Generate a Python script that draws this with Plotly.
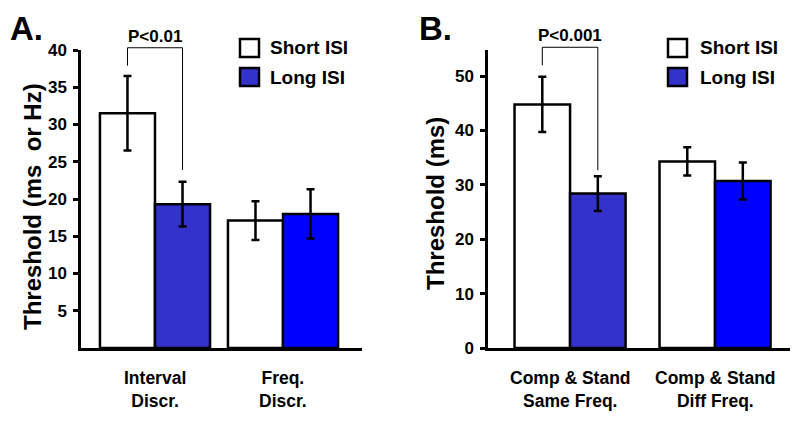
import plotly.graph_objects as go

W, H = 800, 424

# panel A data
cats_a = ["Interval<br>Discr.", "Freq.<br>Discr."]
short_a = [31.5, 17.1]
short_a_err = [5.0, 2.6]
long_a = [19.3, 18.0]
long_a_err = [3.0, 3.3]
long_a_colors = ["#3333cc", "#0000ff"]
yticks_a = [5, 10, 15, 20, 25, 30, 35, 40]

# panel B data
cats_b = ["Comp & Stand<br>Same Freq.", "Comp & Stand<br>Diff Freq."]
short_b = [44.8, 34.3]
short_b_err = [5.1, 2.6]
long_b = [28.4, 30.7]
long_b_err = [3.2, 3.4]
long_b_colors = ["#3333cc", "#0000ff"]
yticks_b = [0, 10, 20, 30, 40, 50]

series_names = ["Short ISI", "Long ISI"]
legend_colors = ["white", "#3333cc"]

FONT = "Liberation Sans, Arial, sans-serif"

# pixel layout helpers
def px_x(p):
    return p / W

def px_y(p):
    return 1 - p / H

panels = [
    dict(xa="x", ya="y", cats=cats_a, short=short_a, se=short_a_err, long=long_a, le=long_a_err,
         lc=long_a_colors, ticks=yticks_a, xdom=(81, 362), ydom=(50, 348), yrange=(0, 40),
         bw=0.43, xr=(-0.578, 1.617), title="Threshold (ms\u00a0\u00a0or Hz)", tx=32, ty=207,
         letter="A.", lx=8, p="P<0.01", br=(40.3, 37.9, 23.9), leg=(240, 268)),
    dict(xa="x2", ya="y2", cats=cats_b, short=short_b, se=short_b_err, long=long_b, le=long_b_err,
         lc=long_b_colors, ticks=yticks_b, xdom=(488, 790), ydom=(50, 348), yrange=(0, 54.8),
         bw=0.383, xr=(-0.566, 1.517), title="Threshold (ms)", tx=435, ty=203,
         letter="B.", lx=417, p="P<0.001", br=(55.3, 52.0, 32.7), leg=(668, 698)),
]

fig = go.Figure()
shapes, annos = [], []
layout = {}

for i, pn in enumerate(panels):
    xs = [0, 1]
    bw = pn["bw"]
    fig.add_trace(go.Bar(x=xs, y=pn["short"], name=series_names[0], xaxis=pn["xa"], yaxis=pn["ya"],
                         width=bw, offset=-bw,
                         marker=dict(color="white", line=dict(color="black", width=2.5)),
                         error_y=dict(type="data", array=pn["se"], color="black", thickness=2.5, width=4),
                         showlegend=False))
    fig.add_trace(go.Bar(x=xs, y=pn["long"], name=series_names[1], xaxis=pn["xa"], yaxis=pn["ya"],
                         width=bw, offset=0,
                         marker=dict(color=pn["lc"], line=dict(color="black", width=2.5)),
                         error_y=dict(type="data", array=pn["le"], color="black", thickness=2.5, width=4),
                         showlegend=False))
    sfx = "" if i == 0 else "2"
    y0, y1 = pn["yrange"]
    layout["xaxis" + sfx] = dict(domain=[px_x(pn["xdom"][0]), px_x(pn["xdom"][1])], range=list(pn["xr"]),
                                 showline=True, linecolor="black", linewidth=2.5, showticklabels=False,
                                 ticks="", showgrid=False, zeroline=False, anchor="y" + sfx,
                                 automargin=False, fixedrange=True)
    layout["yaxis" + sfx] = dict(domain=[px_y(pn["ydom"][1]), px_y(pn["ydom"][0])], range=[y0, y1],
                                 showline=True, linecolor="black", linewidth=2.5, tickvals=pn["ticks"],
                                 ticks="outside", ticklen=5, tickwidth=2.5, tickcolor="black",
                                 ticklabelstandoff=3,
                                 tickfont=dict(family=FONT, size=17, color="black", weight="bold"),
                                 showgrid=False, zeroline=False, anchor="x" + sfx,
                                 automargin=False, fixedrange=True)

    def yv(v, pn=pn):
        a, b = pn["yrange"]
        top, bot = pn["ydom"]
        return px_y(bot - (v - a) / (b - a) * (bot - top))

    # category labels
    for k, c in enumerate(pn["cats"]):
        annos.append(dict(x=k, y=px_y(366), xref=pn["xa"], yref="paper", text=c, showarrow=False,
                          xanchor="center", yanchor="top",
                          font=dict(family=FONT, size=17.5, color="black", weight="bold")))
    # axis title
    annos.append(dict(x=px_x(pn["tx"]), y=px_y(pn["ty"]), xref="paper", yref="paper", text=pn["title"],
                      textangle=-90, showarrow=False, xanchor="center", yanchor="middle",
                      font=dict(family=FONT, size=24, color="black", weight="bold")))
    # panel letter
    annos.append(dict(x=px_x(pn["lx"]), y=px_y(8), xref="paper", yref="paper", text=pn["letter"],
                      xanchor="left", yanchor="top", showarrow=False,
                      font=dict(family=FONT, size=33, color="black", weight="bold")))
    # significance bracket between bar centres of the first group
    xl, xr = -bw / 2, bw / 2
    hy, ly, ry = pn["br"]
    path = f"M{xl},{yv(ly)} L{xl},{yv(hy)} L{xr},{yv(hy)} L{xr},{yv(ry)}"
    shapes.append(dict(type="path", xref=pn["xa"], yref="paper", path=path,
                       line=dict(color="black", width=1)))
    annos.append(dict(x=0, y=yv(hy), xref=pn["xa"], yref="paper", text=pn["p"], showarrow=False,
                      xanchor="center", yanchor="bottom", yshift=0,
                      font=dict(family=FONT, size=17, color="black", weight="bold")))
    # legend
    bx, tx = pn["leg"]
    for k, (nm, col) in enumerate(zip(series_names, legend_colors)):
        cy = 48 + k * 29
        shapes.append(dict(type="rect", xref="paper", yref="paper", x0=px_x(bx), x1=px_x(bx + 19),
                           y0=px_y(cy + 9), y1=px_y(cy - 9), fillcolor=col,
                           line=dict(color="black", width=2.5)))
        annos.append(dict(x=px_x(tx), y=px_y(cy), xref="paper", yref="paper", text=nm, showarrow=False,
                          xanchor="left", yanchor="middle",
                          font=dict(family=FONT, size=19, color="black", weight="bold")))

fig.update_layout(width=W, height=H, margin=dict(l=0, r=0, t=0, b=0), paper_bgcolor="white",
                  plot_bgcolor="white", barmode="overlay", showlegend=False,
                  shapes=shapes, annotations=annos, **layout)
fig.write_html("out.html", config={"displayModeBar": False},
               post_script="document.body.style.margin = '0';")
